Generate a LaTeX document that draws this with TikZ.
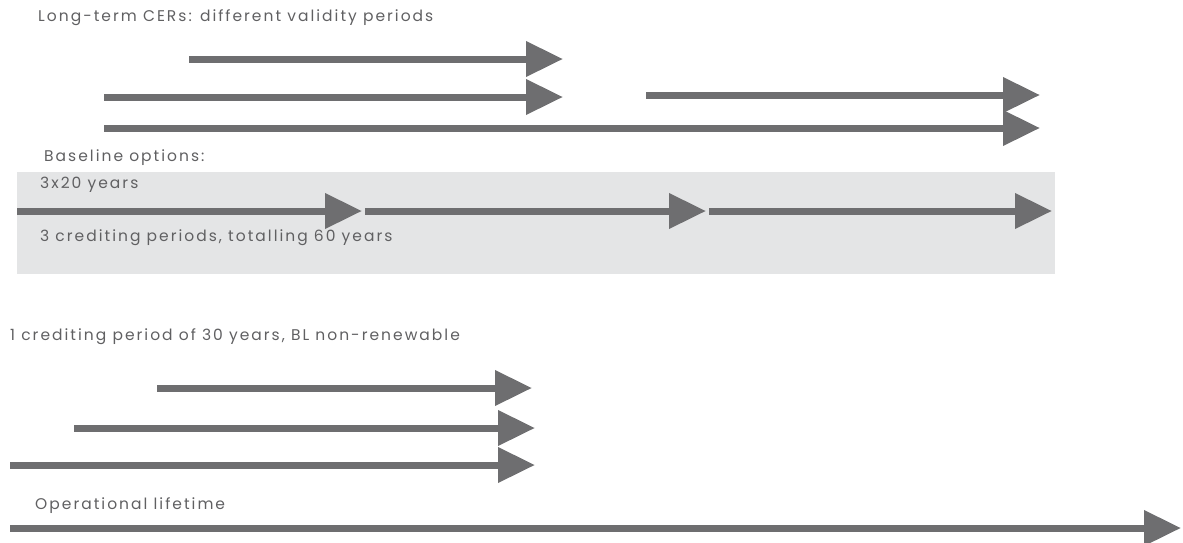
\documentclass[tikz,border=0pt]{standalone}
\usepackage{fontspec}
\setmainfont{Poppins}[LetterSpace=13]
\usetikzlibrary{arrows.meta}
\definecolor{bar}{HTML}{6E6E70}
\definecolor{band}{HTML}{E4E5E6}
\definecolor{ink}{HTML}{606062}
\tikzset{
  x=1pt, y=-1pt,
  period/.style={draw=bar, line width=7pt, -{Triangle[length=37pt,width=34pt]}},
  lbl/.style={anchor=west, inner sep=0pt, text=ink, font=\fontsize{15.5}{17}\selectfont}
}
\begin{document}
\begin{tikzpicture}
\useasboundingbox (0,0) rectangle (1183,542);
% shaded band behind the baseline options
\fill[band] (17,172) rectangle (1055,274);

% labels
\node[lbl] (t1) at (38,18) {Long-term CERs: different validity periods};
\node[lbl] (t2) at (44,158) {Baseline options:};
\node[lbl] (t3) at (40,185) {3x20 years};
\node[lbl] (t4) at (40,238) {3 crediting periods, totalling 60 years};
\node[lbl] (t5) at (10,337) {1 crediting period of 30 years, BL non-renewable};
\node[lbl] (t6) at (35,506) {Operational lifetime};

% end points of the periods
\coordinate (a1) at (189,59);  \coordinate (b1) at (563,59);
\coordinate (a2) at (104,97);  \coordinate (b2) at (563,97);
\coordinate (a3) at (646,95);  \coordinate (b3) at (1040,95);
\coordinate (a4) at (104,128); \coordinate (b4) at (1040,128);

\coordinate (c0) at (17,211);  \coordinate (c1) at (362,211);
\coordinate (d0) at (365,211); \coordinate (d1) at (706,211);
\coordinate (e0) at (709,211); \coordinate (e1) at (1052,211);

\coordinate (f0) at (157,388); \coordinate (f1) at (532,388);
\coordinate (g0) at (74,428);  \coordinate (g1) at (535,428);
\coordinate (h0) at (10,465);  \coordinate (h1) at (535,465);
\coordinate (k0) at (10,528);  \coordinate (k1) at (1181,528);

% validity periods
\draw[period] (a1) -- (b1);
\draw[period] (a2) -- (b2);
\draw[period] (a3) -- (b3);
\draw[period] (a4) -- (b4);
% three renewable crediting periods
\draw[period] (c0) -- (c1);
\draw[period] (d0) -- (d1);
\draw[period] (e0) -- (e1);
% single crediting period
\draw[period] (f0) -- (f1);
\draw[period] (g0) -- (g1);
\draw[period] (h0) -- (h1);
% operational lifetime
\draw[period] (k0) -- (k1);
\end{tikzpicture}
\end{document}
